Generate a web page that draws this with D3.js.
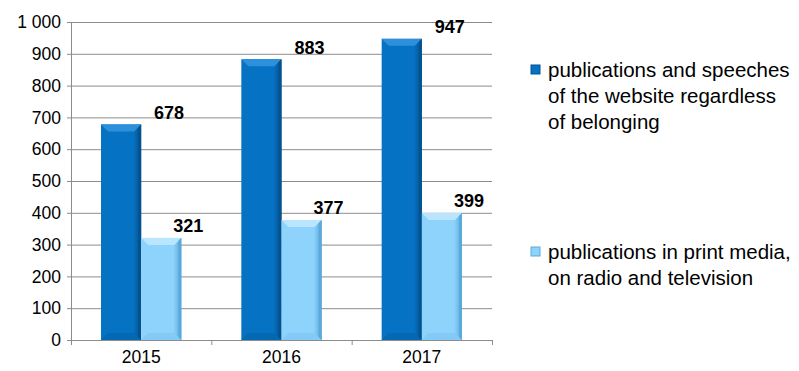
<!DOCTYPE html>
<html>
<head>
<meta charset="utf-8">
<script src="https://cdnjs.cloudflare.com/ajax/libs/d3/7.8.5/d3.min.js"></script>
<style>
  body { margin: 0; background: #fff; }
  #chart { width: 799px; height: 371px; }
  text { font-family: "Liberation Sans", Arial, sans-serif; }
</style>
</head>
<body>
<div id="chart"></div>
<script>
var years = ["2015", "2016", "2017"];
var websiteValues = [678, 883, 947];
var mediaValues = [321, 377, 399];
var seriesNames = [
    ["publications and speeches", "of the website regardless", "of belonging"],
    ["publications in print media,", "on radio and television"]
];
var yTicks = [0, 100, 200, 300, 400, 500, 600, 700, 800, 900, 1000];

var full_width = 799, full_height = 371;
var margin = { top: 22, right: 307, bottom: 31, left: 71 };
var width = full_width - margin.left - margin.right;
var height = full_height - margin.top - margin.bottom;

var series = [
    { values: websiteValues, mid: "#0672c3", edge: "#04528f", top: "#2d90da", bottom: "#0468b2", labelDx: 48 },
    { values: mediaValues, mid: "#8ed3fc", edge: "#5aa9dc", top: "#b9e6fe", bottom: "#83cbf6", labelDx: 27 }
];

var x0 = d3.scaleBand().domain(years).range([0, width]).paddingInner(0).paddingOuter(0);
var x1 = d3.scaleBand().domain([0, 1]).range([30, x0.bandwidth() - 30]);
var y = d3.scaleLinear().domain([0, 1000]).range([height, 0]);

var svg = d3.select("#chart").append("svg")
    .attr("width", full_width)
    .attr("height", full_height);

var defs = svg.append("defs");
series.forEach(function(s, i) {
    var gr = defs.append("linearGradient").attr("id", "grad" + i)
        .attr("x1", "0%").attr("x2", "100%").attr("y1", "0%").attr("y2", "0%");
    gr.append("stop").attr("offset", "0%").attr("stop-color", s.mid);
    gr.append("stop").attr("offset", "80%").attr("stop-color", s.mid);
    gr.append("stop").attr("offset", "100%").attr("stop-color", s.edge);
});

var g = svg.append("g")
    .attr("transform", "translate(" + margin.left + "," + margin.top + ")");

// gridlines
g.selectAll(".grid")
    .data(yTicks.slice(1))
    .enter().append("line")
    .attr("x1", 0).attr("x2", width)
    .attr("y1", function(d) { return y(d) + 0.5; })
    .attr("y2", function(d) { return y(d) + 0.5; })
    .attr("stroke", "#8c8c8c")
    .attr("stroke-width", 1);

// Y Axis
var yAxis = g.append("g")
    .call(d3.axisLeft(y).tickValues(yTicks).tickSize(4).tickPadding(6)
        .tickFormat(function(d) { return d3.format(",")(d).replace(",", " "); }));
yAxis.select(".domain").attr("stroke", "#8c8c8c").attr("d", "M0.5," + (height + 0.5) + "V0.5");
yAxis.selectAll(".tick line").attr("stroke", "#8c8c8c");
yAxis.selectAll("text").style("font-size", "17.5px").attr("fill", "#000");

// bars
var bevel = 7;
series.forEach(function(s, si) {
    var bars = g.selectAll(".bar" + si)
        .data(s.values)
        .enter().append("g")
        .attr("class", "bar" + si);

    bars.each(function(d, i) {
        var bx = x0(years[i]) + x1(si);
        var bw = x1.bandwidth();
        var by = y(d);
        var bh = height - by;
        var el = d3.select(this);
        el.append("rect")
            .attr("x", bx).attr("y", by)
            .attr("width", bw).attr("height", bh)
            .attr("fill", "url(#grad" + si + ")");
        // top bevel
        el.append("path")
            .attr("d", "M" + bx + "," + by + "L" + (bx + bw) + "," + by +
                "L" + (bx + bw - bevel) + "," + (by + bevel) + "L" + (bx + bevel) + "," + (by + bevel) + "Z")
            .attr("fill", s.top);
        // bottom bevel
        el.append("path")
            .attr("d", "M" + bx + "," + (by + bh) + "L" + (bx + bw) + "," + (by + bh) +
                "L" + (bx + bw - bevel) + "," + (by + bh - bevel) + "L" + (bx + bevel) + "," + (by + bh - bevel) + "Z")
            .attr("fill", s.bottom);
        // right edge
        el.append("path")
            .attr("d", "M" + (bx + bw) + "," + by + "L" + (bx + bw) + "," + (by + bh) +
                "L" + (bx + bw - 3) + "," + (by + bh - 3) + "L" + (bx + bw - 3) + "," + (by + 3) + "Z")
            .attr("fill", s.edge);
        // value label
        el.append("text")
            .attr("x", bx + bw / 2 + s.labelDx)
            .attr("y", by - 12)
            .attr("dy", "0.35em")
            .attr("text-anchor", "middle")
            .style("font-size", "18px")
            .style("font-weight", "bold")
            .text(d);
    });
});

// X Axis
var xAxis = g.append("g")
    .attr("transform", "translate(0," + height + ")")
    .call(d3.axisBottom(x0).tickSize(0).tickPadding(11));
xAxis.select(".domain").attr("stroke", "#8c8c8c").attr("d", "M0,0.5H" + width);
xAxis.selectAll("text").style("font-size", "17.5px").attr("fill", "#000");
g.selectAll(".xtick")
    .data(d3.range(years.length + 1))
    .enter().append("line")
    .attr("x1", function(d) { return d * x0.bandwidth() + 0.5; })
    .attr("x2", function(d) { return d * x0.bandwidth() + 0.5; })
    .attr("y1", height).attr("y2", height + 5)
    .attr("stroke", "#8c8c8c");

// legend
var legendY = [77, 259];
seriesNames.forEach(function(lines, i) {
    var lg = svg.append("g").attr("transform", "translate(531," + legendY[i] + ")");
    lg.append("rect")
        .attr("x", 0).attr("y", -12)
        .attr("width", 9).attr("height", 9)
        .attr("fill", series[i].mid)
        .attr("stroke", series[i].edge)
        .attr("stroke-width", 1);
    var t = lg.append("text").style("font-size", "20.5px").attr("fill", "#000");
    lines.forEach(function(line, j) {
        t.append("tspan").attr("x", 17).attr("y", j * 26).text(line);
    });
});
</script>
</body>
</html>
